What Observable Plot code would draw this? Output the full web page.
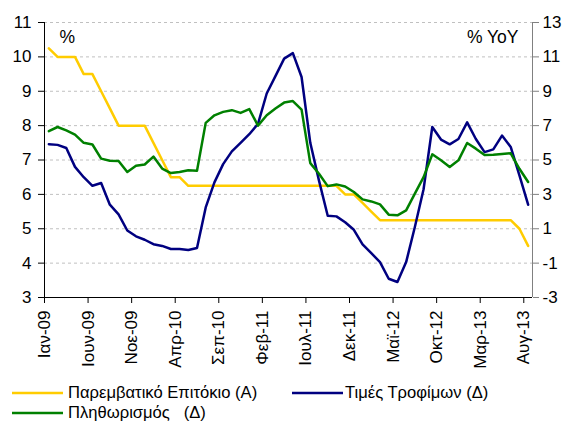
<!DOCTYPE html>
<html>
<head>
<meta charset="utf-8">
<script src="https://cdn.jsdelivr.net/npm/d3@7"></script>
<script src="https://cdn.jsdelivr.net/npm/@observablehq/plot@0.6"></script>
<style>
  html, body { margin: 0; padding: 0; background: #fff; }
  #wrap { width: 566px; font-family: "Liberation Sans", Arial, sans-serif; color: #000; }
  #legend { position: relative; height: 45px; font-size: 16.6px; }
  .item { position: absolute; display: flex; align-items: center; height: 20px; white-space: pre; }
  .item svg { display: block; }
</style>
</head>
<body>
<div id="wrap"></div>
<script>
// X-axis tick labels (one every 5 months, Jan-09 .. Aug-13; 56 monthly points)
const tickLabels = ["Ιαν-09","Ιουν-09","Νοε-09","Απρ-10","Σεπ-10","Φεβ-11","Ιουλ-11","Δεκ-11","Μαϊ-12","Οκτ-12","Μαρ-13","Αυγ-13"];

// Παρεμβατικό Επιτόκιο (left axis, %)
const policyRate = [
  10.25, 10, 10, 10, 9.5, 9.5, 9.0, 8.5, 8.0, 8.0, 8.0, 8.0,
  7.5, 7.0, 6.5, 6.5, 6.25, 6.25, 6.25, 6.25, 6.25, 6.25, 6.25, 6.25,
  6.25, 6.25, 6.25, 6.25, 6.25, 6.25, 6.25, 6.25, 6.25, 6.25, 6.0, 6.0,
  5.75, 5.5, 5.25, 5.25, 5.25, 5.25, 5.25, 5.25, 5.25, 5.25, 5.25, 5.25,
  5.25, 5.25, 5.25, 5.25, 5.25, 5.25, 5.0, 4.5
];

// Τιμές Τροφίμων (right axis, % YoY)
const foodPrices = [
  5.92, 5.88, 5.7, 4.6, 4.0, 3.5, 3.66, 2.4, 1.84, 0.9, 0.56, 0.36,
  0.1, 0.0, -0.18, -0.18, -0.24, -0.12, 2.24, 3.7, 4.76, 5.5, 6.0, 6.5,
  7.1, 8.87, 9.88, 10.9, 11.22, 9.83, 6.0, 3.8, 1.76, 1.72, 1.38, 0.94,
  0.09, -0.42, -0.94, -1.91, -2.1, -0.94, 1.1, 3.3, 6.92, 6.19, 5.91, 6.22,
  7.19, 6.22, 5.46, 5.62, 6.42, 5.76, 4.1, 2.4
];

// Πληθωρισμός (right axis, % YoY)
const inflation = [
  6.68, 6.92, 6.72, 6.48, 6.0, 5.9, 5.08, 4.96, 4.94, 4.3, 4.66, 4.74,
  5.2, 4.5, 4.24, 4.3, 4.4, 4.38, 7.16, 7.6, 7.8, 7.9, 7.74, 7.96,
  7.0, 7.6, 8.0, 8.34, 8.43, 7.93, 4.82, 4.2, 3.48, 3.58, 3.46, 3.14,
  2.71, 2.59, 2.42, 1.82, 1.78, 2.07, 3.04, 4.0, 5.33, 4.98, 4.59, 4.98,
  5.99, 5.66, 5.29, 5.31, 5.35, 5.39, 4.49, 3.72
];

const leftTicks = [3, 4, 5, 6, 7, 8, 9, 10, 11];
const gridTicks = [4, 5, 6, 7, 8, 9, 10, 11];
const tickIndex = tickLabels.map((_, i) => i * 5);
const nMonths = policyRate.length;

// right axis value r maps to left axis value (r + 9) / 2
const toLeft = r => (r + 9) / 2;
const toRight = v => 2 * v - 9;

const cx = (d, i) => i + 0.5;

const chart = Plot.plot({
  width: 566,
  height: 378,
  marginLeft: 44,
  marginRight: 34,
  marginTop: 22,
  marginBottom: 81,
  style: { fontFamily: "Liberation Sans, Arial, sans-serif", fontSize: "17px", color: "#000", background: "#fff", overflow: "visible" },
  x: { domain: [0, nMonths], axis: null },
  y: { domain: [3, 11], axis: null },
  marks: [
    Plot.ruleY(gridTicks, { stroke: "#c0c0c0", strokeDasharray: "3,3", strokeWidth: 1 }),
    Plot.axisY({ anchor: "left", ticks: leftTicks, tickSize: 6, tickPadding: 7, label: null, stroke: "#000", fill: "#000", fontSize: 17 }),
    Plot.axisY({ anchor: "right", ticks: leftTicks, tickFormat: d => String(toRight(d)), tickSize: 6, tickPadding: 4, label: null, stroke: "#808080", fill: "#000", fontSize: 17 }),
    Plot.axisX({ ticks: tickIndex, tickFormat: d => tickLabels[d / 5], tickRotate: -90, tickSize: 6, tickPadding: 7, label: null, stroke: "#000", fill: "#000", fontSize: 17 }),
    Plot.ruleX([0], { stroke: "#000" }),
    Plot.ruleX([nMonths], { stroke: "#808080" }),
    Plot.ruleY([3], { stroke: "#000" }),
    Plot.line(policyRate, { x: cx, y: d => d, stroke: "#FFCC00", strokeWidth: 2.5 }),
    Plot.line(foodPrices, { x: cx, y: d => toLeft(d), stroke: "#000080", strokeWidth: 2.5 }),
    Plot.line(inflation, { x: cx, y: d => toLeft(d), stroke: "#008000", strokeWidth: 2.5 }),
    Plot.text(["%"], { frameAnchor: "top-left", dx: 15, dy: 8, textAnchor: "start", lineAnchor: "top", fontSize: 17.5, fill: "#000" }),
    Plot.text(["% YoY"], { frameAnchor: "top-right", dx: -14, dy: 8, textAnchor: "end", lineAnchor: "top", fontSize: 17.5, fill: "#000" })
  ]
});

const wrap = document.getElementById("wrap");
wrap.appendChild(chart);

const legendItems = [
  { label: "Παρεμβατικό Επιτόκιο (Α)", color: "#FFCC00", left: 12, top: 5, gap: 5 },
  { label: "Τιμές Τροφίμων (Δ)", color: "#000080", left: 292, top: 5, gap: 2 },
  { label: "Πληθωρισμός   (Δ)", color: "#008000", left: 12, top: 25, gap: 5 }
];
const legend = document.createElement("div");
legend.id = "legend";
for (const it of legendItems) {
  const el = document.createElement("div");
  el.className = "item";
  el.style.left = it.left + "px";
  el.style.top = it.top + "px";
  el.innerHTML = `<svg width="51" height="4"><line x1="0" x2="51" y1="2" y2="2" stroke="${it.color}" stroke-width="2.5"/></svg><span style="margin-left:${it.gap}px">${it.label}</span>`;
  legend.appendChild(el);
}
wrap.appendChild(legend);
</script>
</body>
</html>
